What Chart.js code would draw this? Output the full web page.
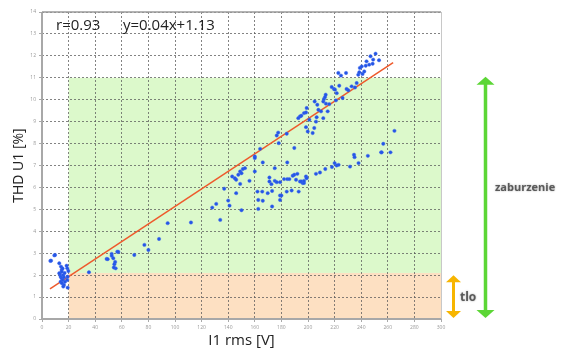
<!DOCTYPE html>
<html>
<head>
<meta charset="utf-8">
<script src="https://cdn.jsdelivr.net/npm/chart.js@4.4.0/dist/chart.umd.min.js"></script>
<style>
html,body{margin:0;padding:0;background:#fff;}
#wrap{position:relative;width:574px;height:352px;}
</style>
</head>
<body>
<div id="wrap"><canvas id="c" width="574" height="352"></canvas></div>
<script>
// ---- data ----
const xTicks = [0,20,40,60,80,100,120,140,160,180,200,220,240,260,280,300];
const yTicks = [0,1,2,3,4,5,6,7,8,9,10,11,12,13,14];
const pointX = [
 6.3,6.8,9.3,9.8,13,14.3,14.8,13.5,14,14.8,15.5,14,15,16,16.5,18.5,19,19.8,19.3,19,19.3,16,14.8,13,17.3,15.5,16.5,17,
 35.3,48.6,49.4,52.4,52.4,53.6,54.4,55.4,54,56.6,57.4,55,69.4,77,80,88,94.5,112,
 134,128,131,137,140,141,146,150,143,145,146,147.6,149,150,151,152.6,149,156,160,160,162,162.6,165.6,166,162.6,166,169.7,171,171,172.5,173,173,175,175,176.5,179,179,179,180,182,184.4,184.4,184,186,187.7,188.5,189.7,191,192,193,194,195,196,197,197,198.5,199,206,209,213,218,220,221.5,223,231.6,234.6,235,238,245,255,262,
 160,164,176.5,177.6,178,184,189.7,192.7,194,195,197,198.5,199,198.5,199.8,201,203.5,204.7,205,206,206.5,207,207.8,209.8,211.5,211.5,212,212.8,213.3,213.5,214.8,216,217.8,219.5,220.3,221,221.6,222.8,223.5,226,224.8,228.6,229,230.3,232.8,235.3,236.6,237.8,238.6,239,240.4,241,242.3,243.4,244,246,247,248.6,249,250.8,253.4,265,256.6,255.4
];
const pointY = [
 2.65,2.66,2.9,2.92,2.54,2.39,2.24,2.04,1.93,1.86,1.78,1.7,1.63,2.0,1.55,2.43,2.31,2.19,1.93,1.78,1.43,1.48,2.16,2.09,1.7,2.3,1.9,2.1,
 2.13,2.74,2.73,2.97,2.88,2.77,2.5,2.31,2.35,3.07,3.06,2.6,2.92,3.38,3.15,3.65,4.37,4.4,
 4.52,5.08,5.25,5.94,5.4,5.17,5.74,4.96,6.5,6.42,6.35,6.58,6.73,6.65,6.84,6.88,6.16,6.3,7.41,6.73,5.81,5.43,5.81,5.39,5.02,7.14,5.74,6.45,6.27,6.15,5.84,5.13,6.88,6.3,6.24,6.24,5.63,5.43,5.63,6.38,6.38,7.14,5.81,6.38,5.86,6.53,6.58,6.35,6.62,5.81,6.27,6.27,6.2,6.2,6.3,6.5,6.42,6.62,6.68,6.84,6.93,7.11,7.0,7.03,6.95,7.49,7.38,7.11,7.44,7.6,7.6,
 7.34,7.76,8.37,8.5,8.02,8.45,7.8,9.16,9.24,9.27,9.39,9.42,9.62,8.75,8.55,9.09,8.48,8.71,9.92,9.0,9.2,9.77,9.54,9.47,9.16,9.92,10.03,10.12,10.23,9.82,9.47,9.8,10.58,10.49,10.46,9.97,10.3,11.22,10.64,10.08,11.1,11.22,10.49,10.43,10.61,10.56,10.76,11.14,11.25,11.45,11.52,11.17,11.29,11.55,11.75,11.6,11.98,11.64,11.83,12.1,11.8,8.58,7.99,7.6
];
const trendX = [6, 264];
const trendY = [1.37, 11.69];
const zoneX = [20, 300];
const greenZoneY = [2.1, 11];
const orangeZoneY = [0, 2.1];
const greenArrowY = [0.05, 11.05];
const orangeArrowY = [0.05, 2.0];
const statsText = ["r=0.93", "y=0.04x+1.13"];
const xTitle = "I1 rms [V]";
const yTitle = "THD U1 [%]";
const bigLabel = "zaburzenie";
const smallLabel = "tlo";

const scatterData = pointX.map((x,i)=>({x:x, y:pointY[i]}));
const trendData = trendX.map((x,i)=>({x:x, y:trendY[i]}));

const FONT = "'Open Sans', 'DejaVu Sans', sans-serif";

const zonesPlugin = {
  id:'zones',
  beforeDraw(chart){
    const {ctx, scales:{x,y}} = chart;
    ctx.save();
    ctx.fillStyle = '#dcf9cb';
    ctx.fillRect(x.getPixelForValue(zoneX[0]), y.getPixelForValue(greenZoneY[1]),
      x.getPixelForValue(zoneX[1]) - x.getPixelForValue(zoneX[0]),
      y.getPixelForValue(greenZoneY[0]) - y.getPixelForValue(greenZoneY[1]));
    ctx.fillStyle = '#fde0c2';
    ctx.fillRect(x.getPixelForValue(zoneX[0]), y.getPixelForValue(orangeZoneY[1]),
      x.getPixelForValue(zoneX[1]) - x.getPixelForValue(zoneX[0]),
      y.getPixelForValue(orangeZoneY[0]) - y.getPixelForValue(orangeZoneY[1]));
    ctx.restore();
  },
  beforeDatasetsDraw(chart){
    const {ctx, chartArea:a} = chart;
    ctx.save();
    // frame
    ctx.strokeStyle = '#a8a8a8';
    ctx.lineWidth = 2;
    ctx.beginPath();
    ctx.moveTo(a.left, a.top); ctx.lineTo(a.left, a.bottom); ctx.lineTo(a.right, a.bottom);
    ctx.stroke();
    ctx.lineWidth = 1.5;
    ctx.strokeStyle = '#9a9a9a';
    ctx.beginPath();
    ctx.moveTo(a.left, a.top); ctx.lineTo(a.right, a.top);
    ctx.stroke();
    ctx.lineWidth = 1;
    ctx.strokeStyle = '#c8c8c8';
    ctx.beginPath();
    ctx.moveTo(a.right+0.5, a.top); ctx.lineTo(a.right+0.5, a.bottom);
    ctx.stroke();
    ctx.restore();
  },
  afterDraw(chart){
    const {ctx, scales:{y}, chartArea:a} = chart;
    ctx.save();
    // stats text
    ctx.fillStyle = '#222';
    ctx.font = '15px ' + FONT;
    ctx.textBaseline = 'alphabetic';
    ctx.textAlign = 'left';
    ctx.fillText(statsText[0], 56, 29.5);
    ctx.fillText(statsText[1], 123, 29.5);

    function arrow(cx, yTop, yBot, color, lw, hw, hh){
      ctx.strokeStyle = color; ctx.fillStyle = color; ctx.lineWidth = lw;
      ctx.beginPath(); ctx.moveTo(cx, yTop + hh - 1); ctx.lineTo(cx, yBot - hh + 1); ctx.stroke();
      ctx.beginPath(); ctx.moveTo(cx, yTop); ctx.lineTo(cx - hw/2, yTop + hh); ctx.lineTo(cx + hw/2, yTop + hh); ctx.closePath(); ctx.fill();
      ctx.beginPath(); ctx.moveTo(cx, yBot); ctx.lineTo(cx - hw/2, yBot - hh); ctx.lineTo(cx + hw/2, yBot - hh); ctx.closePath(); ctx.fill();
    }
    arrow(485.5, y.getPixelForValue(greenArrowY[1]), y.getPixelForValue(greenArrowY[0]), '#5cd636', 3.5, 18, 8);
    arrow(453.5, y.getPixelForValue(orangeArrowY[1]), y.getPixelForValue(orangeArrowY[0]), '#f7b500', 3, 15, 7);

    ctx.fillStyle = '#5a5a5a';
    ctx.textBaseline = 'middle';
    ctx.font = 'bold 11px ' + FONT;
    ctx.shadowColor = 'rgba(0,0,0,0.35)';
    ctx.shadowBlur = 2;
    ctx.fillText(bigLabel, 495, 188);
    ctx.font = 'bold 12px ' + FONT;
    ctx.fillText(smallLabel, 460, 298);
    ctx.restore();
  }
};

new Chart(document.getElementById('c'), {
  type: 'scatter',
  data: {
    datasets: [
      {
        type: 'line',
        label: 'trend',
        data: trendData,
        borderColor: '#ee5a2c',
        borderWidth: 1.5,
        pointRadius: 0,
        fill: false,
        order: 1
      },
      {
        label: 'THD',
        data: scatterData,
        backgroundColor: '#2456e6',
        borderColor: 'rgba(60,100,240,0.55)',
        borderWidth: 0.8,
        pointRadius: 1.7,
        order: 0
      }
    ]
  },
  options: {
    responsive: false,
    animation: false,
    devicePixelRatio: 1,
    layout: { padding: { top: 12, right: 133, left: 0, bottom: 0 } },
    plugins: { legend: { display: false }, tooltip: { enabled: false } },
    scales: {
      x: {
        type: 'linear', min: 0, max: 300,
        afterBuildTicks: s => { s.ticks = xTicks.map(v => ({value: v})); },
        afterFit: s => { s.height = 33; },
        ticks: { color: '#999', font: { size: 5, family: FONT }, padding: 3, maxRotation: 0, autoSkip: false },
        grid: { color: 'rgba(90,90,90,0.75)', lineWidth: 1, tickLength: 3, tickColor: '#aaa', drawTicks: true },
        border: { display: false, dash: [2, 2] },
        title: { display: true, text: xTitle, color: '#222', font: { size: 15, family: FONT }, padding: { top: 0, bottom: 2 } }
      },
      y: {
        type: 'linear', min: 0, max: 14,
        afterBuildTicks: s => { s.ticks = yTicks.map(v => ({value: v})); },
        afterFit: s => { s.width = 42; },
        ticks: { color: '#999', font: { size: 5, family: FONT }, padding: 3, autoSkip: false },
        grid: { color: 'rgba(90,90,90,0.75)', lineWidth: 1, tickLength: 3, tickColor: '#aaa', drawTicks: true },
        border: { display: false, dash: [2, 2] },
        title: { display: true, text: yTitle, color: '#222', font: { size: 14, family: FONT }, padding: { top: 11, bottom: 0 } }
      }
    }
  },
  plugins: [zonesPlugin]
});
</script>
</body>
</html>
